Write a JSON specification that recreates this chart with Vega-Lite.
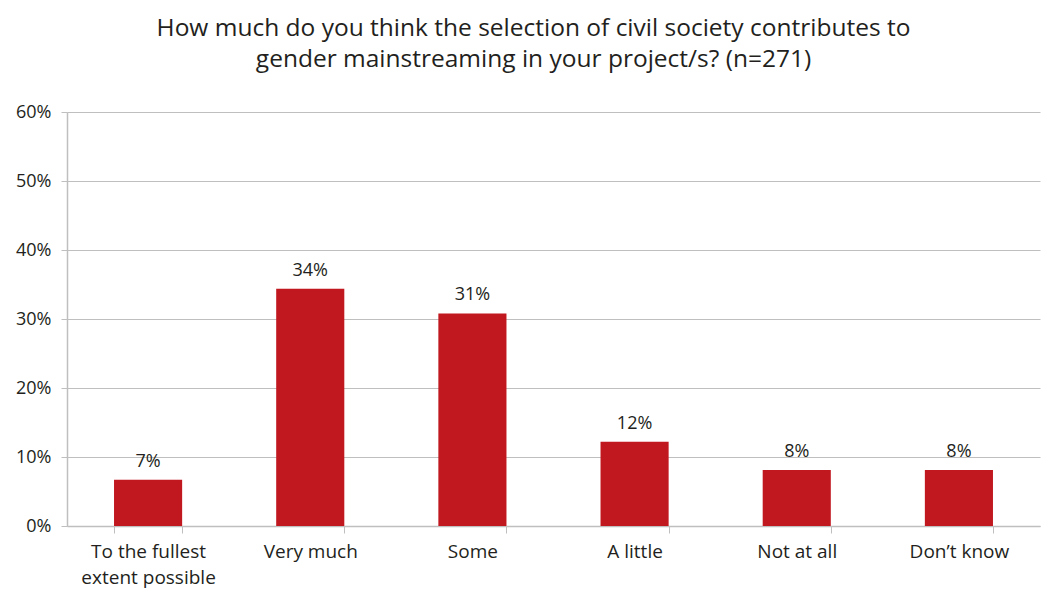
{
  "$schema": "https://vega.github.io/schema/vega-lite/v6.json",
  "autosize": {"type": "none"},
  "width": 973,
  "height": 414,
  "padding": {"left": 67, "top": 112, "right": 12, "bottom": 63},
  "background": "white",
  "title": {
    "text": ["How much do you think the selection of civil society contributes to", "gender mainstreaming in your project/s? (n=271)"],
    "anchor": "middle",
    "dx": -20,
    "offset": 31,
    "font": "Open Sans",
    "fontSize": 24.5,
    "fontWeight": "normal",
    "color": "#231f20",
    "lineHeight": 31
  },
  "data": {
    "values": [
      {"category": "To the fullest extent possible", "share": 0.067},
      {"category": "Very much", "share": 0.344},
      {"category": "Some", "share": 0.308},
      {"category": "A little", "share": 0.122},
      {"category": "Not at all", "share": 0.081},
      {"category": "Don’t know", "share": 0.081}
    ]
  },
  "encoding": {
    "x": {
      "field": "category",
      "type": "nominal",
      "sort": null,
      "scale": {"paddingInner": 0.58, "paddingOuter": 0.29},
      "axis": {
        "title": null,
        "labelAngle": 0,
        "tickBand": "extent",
        "tickSize": 7,
        "tickColor": "#bfbfbf",
        "domainColor": "#bfbfbf",
        "labelPadding": 9,
        "labelFont": "Open Sans",
        "labelFontSize": 19,
        "labelColor": "#231f20",
        "labelLineHeight": 26,
        "labelExpr": "datum.value == 'To the fullest extent possible' ? ['To the fullest', 'extent possible'] : datum.value"
      }
    },
    "y": {
      "field": "share",
      "type": "quantitative",
      "scale": {"domain": [0, 0.6]},
      "axis": {
        "title": null,
        "format": ".0%",
        "values": [0, 0.1, 0.2, 0.3, 0.4, 0.5, 0.6],
        "labelOverlap": false,
        "tickSize": 6,
        "tickColor": "#bfbfbf",
        "domainColor": "#bfbfbf",
        "gridColor": "#bfbfbf",
        "labelPadding": 10,
        "labelFont": "Open Sans",
        "labelFontSize": 18,
        "labelColor": "#231f20"
      }
    }
  },
  "layer": [
    {"mark": {"type": "bar", "color": "#c1171f"}},
    {
      "mark": {"type": "text", "baseline": "bottom", "dy": -9, "font": "Open Sans", "fontSize": 18, "color": "#231f20"},
      "encoding": {"text": {"field": "share", "format": ".0%"}}
    }
  ],
  "config": {"view": {"stroke": null}, "axis": {"domainWidth": 1.5, "gridWidth": 1.2}}
}
